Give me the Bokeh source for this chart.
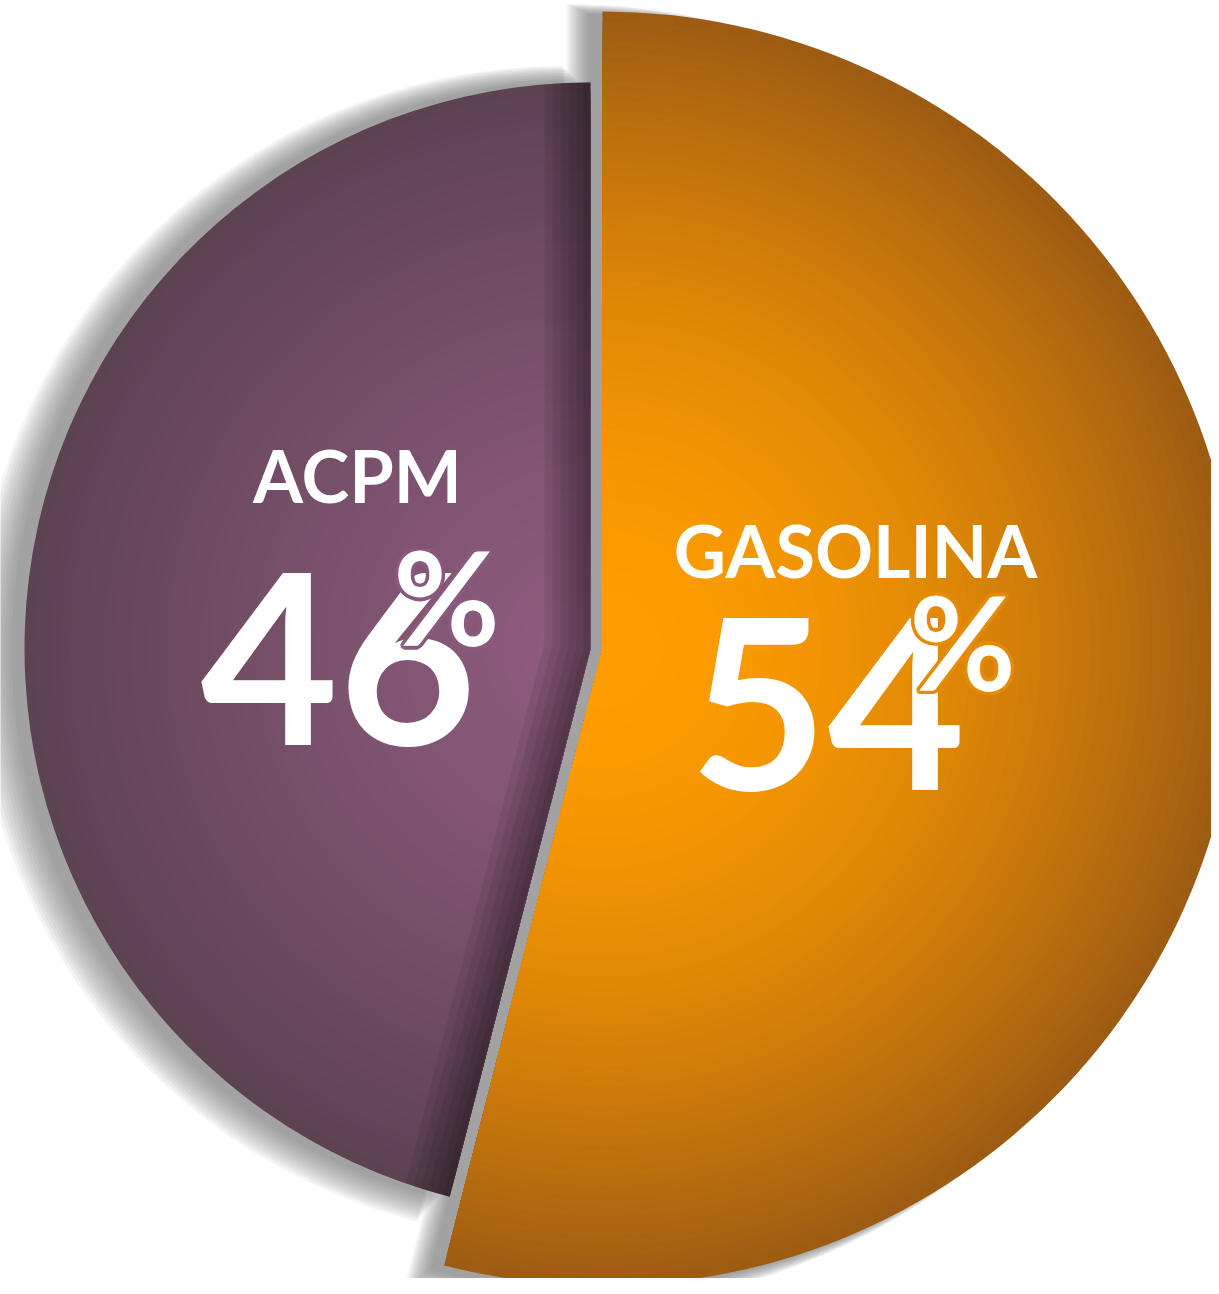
import numpy as np
from bokeh.plotting import figure
from bokeh.models import Range1d
from bokeh.core.properties import value
from bokeh.embed import file_html
from bokeh.resources import INLINE

# ---- data ----
categories = ["GASOLINA", "ACPM"]
shares = [54, 46]
number_labels = ["54", "46"]
sign_labels = ["%", "%"]

# ---- layout / style ----
W, H = 1211, 1278
FONT = "Lato"

p = figure(width=W, height=H, x_range=Range1d(0, W), y_range=Range1d(0, H),
           output_backend="svg", toolbar_location=None, min_border=0,
           x_axis_location=None, y_axis_location=None,
           outline_line_color=None, background_fill_color="white",
           border_fill_color="white")
p.grid.visible = False

total = float(sum(shares))
spans = [s / total * 2 * np.pi for s in shares]
# first slice runs clockwise from 12 o'clock, second continues
a_top = np.pi / 2
angles = [(a_top - spans[0], a_top), (a_top, a_top + spans[1])]

style = [
    dict(cx=602, cy=630, r=637, inner=(255, 157, 0), outer=(158, 92, 19), gamma=1.85,
         shadow_dx=-12, shadow_dy=-3, shadow_k=0.8, bevel=False,
         ring=(229, 139, 7),
         off_name=(10, 105), off_num=(-18, -104), off_sign=(117, -5)),
    dict(cx=590, cy=630, r=566, inner=(143, 92, 127), outer=(93, 66, 82), gamma=1.25,
         shadow_dx=-10, shadow_dy=0, shadow_k=0.6, bevel=True,
         ring=(138, 90, 124),
         off_name=(10, 119), off_num=(-9, -121), off_sign=(99, -22)),
]

def hexc(c):
    return "#%02x%02x%02x" % tuple(int(round(v)) for v in c)

# ---- soft shadows ----
K = 12
BLUR = 30
for (a0, a1), st in zip(angles, style):
    xs, ys, rs = [], [], []
    for k in range(K):
        e = BLUR * (1 - k / K)
        xs.append(st["cx"] + st["shadow_dx"] - e * st["shadow_k"])
        ys.append(st["cy"] + st["shadow_dy"] - e * 0.15)
        rs.append(st["r"] + e * (1 - st["shadow_k"]) + e * 0.3)
    p.wedge(x=xs, y=ys, radius=rs, start_angle=a0, end_angle=a1,
            fill_color="#666666", fill_alpha=0.075, line_color=None)

# ---- slices with radial gradient ----
N = 64
for (a0, a1), st in zip(angles, style):
    rs, cols = [], []
    for i in range(N):
        rr = st["r"] * (1 - i / N)
        t = (rr / st["r"]) ** st["gamma"]
        c = [st["inner"][j] + (st["outer"][j] - st["inner"][j]) * t for j in range(3)]
        rs.append(rr)
        cols.append(hexc(c))
    p.wedge(x=[st["cx"]] * N, y=[st["cy"]] * N, radius=rs,
            start_angle=a0, end_angle=a1, fill_color=cols, line_color=None)

# ---- inner shading along both straight edges of the second slice ----
def bevel_poly(cx, cy, r, a0, a1, d, n=14):
    u0 = np.array([np.cos(a0), np.sin(a0)]); n0 = np.array([-np.sin(a0), np.cos(a0)])
    u1 = np.array([np.cos(a1), np.sin(a1)]); n1 = np.array([np.sin(a1), -np.cos(a1)])
    c = np.array([cx, cy], dtype=float)
    theta = a1 - a0
    mid = (a0 + a1) / 2
    m = c + d / np.sin(theta / 2) * np.array([np.cos(mid), np.sin(mid)])
    pts = [c, c + r * u1]
    for t in np.linspace(0, d, n):
        pts.append(c + np.sqrt(r * r - t * t) * u1 + t * n1)
    pts.append(m)
    for t in np.linspace(d, 0, n):
        pts.append(c + np.sqrt(r * r - t * t) * u0 + t * n0)
    pts = np.array(pts)
    return list(pts[:, 0]), list(pts[:, 1])

for (a0, a1), st in zip(angles, style):
    if not st["bevel"]:
        continue
    bx, by = [], []
    for d in [46, 38, 30, 22, 14, 7]:
        sx, sy = bevel_poly(st["cx"], st["cy"], st["r"], a0, a1, d)
        bx.append(sx)
        by.append(sy)
    p.patches(xs=bx, ys=by, fill_color="black", fill_alpha=0.075, line_color=None)

# ---- labels ----
R_LAB = 245
NAME_PX, NUM_PX, SIGN_PX = 72, 238, 130
for (a0, a1), st, name, num, sign in zip(angles, style, categories, number_labels, sign_labels):
    mid = (a0 + a1) / 2
    ax = st["cx"] + R_LAB * np.cos(mid)
    ay = st["cy"] + R_LAB * np.sin(mid)
    p.text(x=[ax + st["off_name"][0]], y=[ay + st["off_name"][1] + NAME_PX / 3], text=[name],
           text_font=value(FONT), text_font_style="bold", text_font_size=value(f"{NAME_PX}px"),
           text_color="white", text_align="center", text_baseline="alphabetic")
    p.text(x=[ax + st["off_num"][0]], y=[ay + st["off_num"][1] + NUM_PX / 3], text=[num],
           text_font=value(FONT), text_font_style="bold", text_font_size=value(f"{NUM_PX}px"),
           text_color="white", text_align="center", text_baseline="alphabetic")
    sx0 = ax + st["off_sign"][0]
    sy0 = ay + st["off_sign"][1] + SIGN_PX / 3
    ox, oy = [], []
    for ang in np.linspace(0, 2 * np.pi, 12, endpoint=False):
        ox.append(sx0 + 3.5 * np.cos(ang))
        oy.append(sy0 + 3.5 * np.sin(ang))
    p.text(x=ox, y=oy, text=[sign] * len(ox),
           text_font=value(FONT), text_font_style="bold", text_font_size=value(f"{SIGN_PX}px"),
           text_color=hexc(st["ring"]), text_align="center", text_baseline="alphabetic")
    p.text(x=[sx0], y=[sy0], text=[sign],
           text_font=value(FONT), text_font_style="bold", text_font_size=value(f"{SIGN_PX}px"),
           text_color="white", text_align="center", text_baseline="alphabetic")

open("out.html", "w").write(file_html(p, INLINE))
